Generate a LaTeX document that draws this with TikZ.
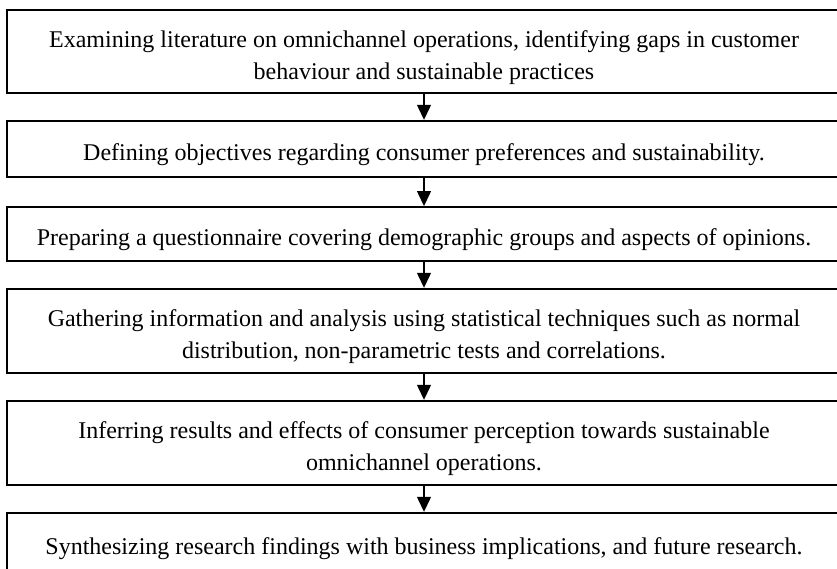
\documentclass[tikz,border=0pt]{standalone}
\usepackage{fontspec}
\setmainfont{Liberation Serif}
\usetikzlibrary{arrows.meta}
\begin{document}
\begin{tikzpicture}[x=1pt,y=-1pt,
  stage/.style={draw, line width=2.4pt, minimum width=834pt, inner sep=0pt},
  txt/.style={align=center, inner sep=0pt, yshift=-6pt,
    font=\fontsize{24}{32}\selectfont},
  flow/.style={-{Triangle[length=15pt,width=14pt]}, line width=1.3pt}]
\useasboundingbox (0,0) rectangle (837,569);
% research stages, top to bottom
\node[stage, minimum height=83pt,
  label={[txt]center:{Examining literature on omnichannel operations, identifying gaps in customer\\behaviour and sustainable practices}}]
  (s1) at (424,51.5) {};
\node[stage, minimum height=56pt,
  label={[txt]center:{Defining objectives regarding consumer preferences and sustainability.}}]
  (s2) at (424,149) {};
\node[stage, minimum height=53.5pt,
  label={[txt]center:{Preparing a questionnaire covering demographic groups and aspects of opinions.}}]
  (s3) at (424,234) {};
\node[stage, minimum height=84pt,
  label={[txt]center:{Gathering information and analysis using statistical techniques such as normal\\distribution, non-parametric tests and correlations.}}]
  (s4) at (424,331) {};
\node[stage, minimum height=84pt,
  label={[txt]center:{Inferring results and effects of consumer perception towards sustainable\\omnichannel operations.}}]
  (s5) at (424,443) {};
\node[stage, minimum height=60pt,
  label={[txt]center:{Synthesizing research findings with business implications, and future research.}}]
  (s6) at (424,543) {};
% connectors
\draw[flow] (s1.south) -- (s2.north);
\draw[flow] (s2.south) -- (s3.north);
\draw[flow] (s3.south) -- (s4.north);
\draw[flow] (s4.south) -- (s5.north);
\draw[flow] (s5.south) -- (s6.north);
\end{tikzpicture}
\end{document}
